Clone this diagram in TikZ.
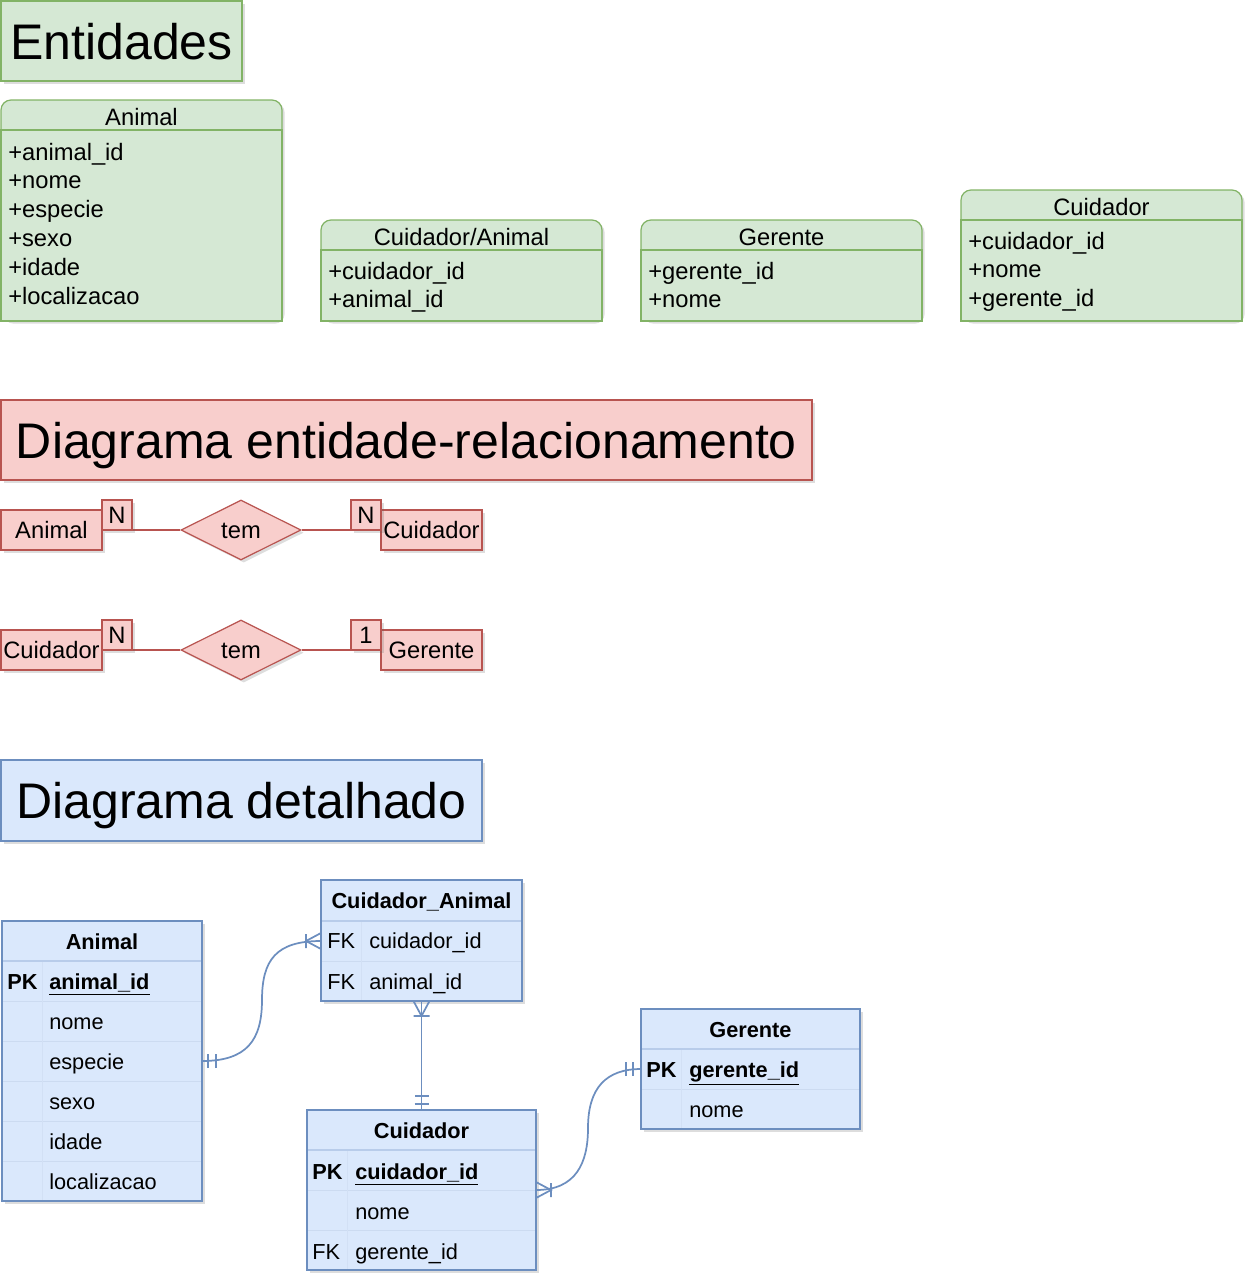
\documentclass[tikz,border=0pt]{standalone}
\usepackage{fontspec}
\setmainfont{Liberation Sans}
\usetikzlibrary{shapes.geometric, shadows, positioning}

\definecolor{greenfill}{HTML}{D5E8D4}
\definecolor{greenline}{HTML}{82B366}
\definecolor{redfill}{HTML}{F8CECC}
\definecolor{redline}{HTML}{B85450}
\definecolor{bluefill}{HTML}{DAE8FC}
\definecolor{blueline}{HTML}{6C8EBF}
\definecolor{rowline}{HTML}{CCDBF1}
\definecolor{headline}{HTML}{B8CCEA}
\definecolor{keyline}{HTML}{D2E0F5}

\newcommand{\pxu}{0.75pt}

\tikzset{
    sz/.style 2 args={anchor=north west, minimum width=#1*\pxu, minimum height=#2*\pxu, inner sep=0pt, outer sep=0pt},
    shade/.style={drop shadow={shadow xshift=2pt, shadow yshift=-2pt, opacity=0.22, fill=black!60}},
    entbox/.style={draw=greenline, fill=greenfill, line width=0.9pt},
    erbox/.style={draw=redline, fill=redfill, line width=0.9pt, shade},
    detbox/.style={draw=blueline, fill=bluefill, line width=0.9pt},
    rowbox/.style={draw=rowline, line width=0.75pt},
    big/.style={font=\fontsize{37.5}{40}\selectfont, text height=27pt, text depth=0pt},
    txt/.style={font=\fontsize{17.8}{21}\selectfont, inner sep=0pt, text height=12.8pt, text depth=0pt},
    dtxt/.style={font=\fontsize{16.3}{19}\selectfont, inner sep=0pt, text height=11.7pt, text depth=0pt, anchor=west},
    dkey/.style={dtxt, font=\fontsize{16.3}{19}\selectfont\bfseries},
    dhead/.style={dkey, anchor=center},
    erline/.style={draw=redline, line width=0.9pt},
    rel/.style={draw=blueline, line width=1.3pt},
    frame/.style={draw=blueline, line width=0.9pt}
}

\begin{document}
\begin{tikzpicture}[x=0.75pt, y=-0.75pt]
    \useasboundingbox (0,0) rectangle (1254,1282);

    % Entidades
    \node[entbox, shade, sz={241}{80}, big] (enttitle) at (1,1) {Entidades};

    \node[entbox, shade, rounded corners=7.5pt, sz={281}{221}] (animal) at (1,100) {};
    \node[entbox, sz={281}{191}] (animalbody) at (1,130) {};
    \node[txt] (animalname) at (141.5,117) {Animal};
    \foreach \a [count=\i from 0] in {+animal\_id, +nome, +especie, +sexo, +idade, +localizacao}
        \node[txt, anchor=west] (animalattr\i) at (8,151.5+28.8*\i) {\a};

    \node[entbox, shade, rounded corners=7.5pt, sz={281}{101}] (cuidanimal) at (321,220) {};
    \node[entbox, sz={281}{71}] (cuidanimalbody) at (321,250) {};
    \node[txt] (cuidanimalname) at (461.5,237) {Cuidador/Animal};
    \foreach \a [count=\i from 0] in {+cuidador\_id, +animal\_id}
        \node[txt, anchor=west] (cuidanimalattr\i) at (328,270.5+28.8*\i) {\a};

    \node[entbox, shade, rounded corners=7.5pt, sz={281}{101}] (gerente) at (641,220) {};
    \node[entbox, sz={281}{71}] (gerentebody) at (641,250) {};
    \node[txt] (gerentename) at (781.5,237) {Gerente};
    \foreach \a [count=\i from 0] in {+gerente\_id, +nome}
        \node[txt, anchor=west] (gerenteattr\i) at (648,270.5+28.8*\i) {\a};

    \node[entbox, shade, rounded corners=7.5pt, sz={281}{131}] (cuidador) at (961,190) {};
    \node[entbox, sz={281}{101}] (cuidadorbody) at (961,220) {};
    \node[txt] (cuidadorname) at (1101.5,207) {Cuidador};
    \foreach \a [count=\i from 0] in {+cuidador\_id, +nome, +gerente\_id}
        \node[txt, anchor=west] (cuidadorattr\i) at (968,240.5+28.8*\i) {\a};

    % Diagrama entidade-relacionamento
    \node[erbox, sz={811}{80}, big] (ertitle) at (1,400) {Diagrama entidade-relacionamento};

    \node[erbox, sz={101}{40}, txt] (eranimal) at (1,510) {Animal};
    \node[erbox, diamond, txt, minimum width=120*\pxu, minimum height=60*\pxu] (ertem1) at (241,530) {tem};
    \node[erbox, sz={101}{40}, txt] (ercuid1) at (381,510) {Cuidador};
    \draw[erline] (eranimal) -- (ertem1) -- (ercuid1);
    \node[erbox, sz={30}{30}, txt] (ern1) at (102,500) {N};
    \node[erbox, sz={30}{30}, txt] (ern2) at (351,500) {N};

    \node[erbox, sz={101}{40}, txt] (ercuid2) at (1,630) {Cuidador};
    \node[erbox, diamond, txt, minimum width=120*\pxu, minimum height=60*\pxu] (ertem2) at (241,650) {tem};
    \node[erbox, sz={101}{40}, txt] (ergerente) at (381,630) {Gerente};
    \draw[erline] (ercuid2) -- (ertem2) -- (ergerente);
    \node[erbox, sz={30}{30}, txt] (ern3) at (102,620) {N};
    \node[erbox, sz={30}{30}, txt] (erone) at (351,620) {1};

    % Diagrama detalhado
    \node[detbox, shade, sz={481}{81}, big] (dettitle) at (1,760) {Diagrama detalhado};

    % Animal table
    \node[detbox, shade, sz={200}{280}] (tanimal) at (2,921) {};
    \foreach \r [count=\i from 0] in {pk, nome, esp, sexo, idade, loc}
        \node[rowbox, sz={200}{40}] (tanimal\r) at (2,961+40*\i) {};
    \draw[keyline, line width=0.75pt] (42,961) -- (42,1201);
    \draw[headline, line width=0.9pt] (tanimalpk.north west) -- (tanimalpk.north east);
    \draw[frame] (tanimal.north west) rectangle (tanimal.south east);
    \node[dhead] (tanimalh) at (102,942) {Animal};
    \node[dkey] (tanimalk) at (7,982) {PK};
    \node[dkey] (tanimalid) at (49,982) {\underline{animal\_id}};
    \foreach \f [count=\i from 1] in {nome, especie, sexo, idade, localizacao}
        \node[dtxt] (tanimalf\i) at (49,982+40*\i) {\f};

    % Cuidador_Animal table
    \node[detbox, shade, sz={201}{121}] (tca) at (321,880) {};
    \node[rowbox, sz={201}{40}] (tcafk1) at (321,921) {};
    \node[rowbox, sz={201}{40}] (tcafk2) at (321,961) {};
    \draw[keyline, line width=0.75pt] (361,921) -- (361,1001);
    \draw[headline, line width=0.9pt] (tcafk1.north west) -- (tcafk1.north east);
    \draw[frame] (tca.north west) rectangle (tca.south east);
    \node[dhead] (tcah) at (421.5,901) {Cuidador\_Animal};
    \node[dtxt] (tcak1) at (327,941) {FK};
    \node[dtxt] (tcaf1) at (369,941) {cuidador\_id};
    \node[dtxt] (tcak2) at (327,982) {FK};
    \node[dtxt] (tcaf2) at (369,982) {animal\_id};

    % Cuidador table
    \node[detbox, shade, sz={229}{160}] (tcuid) at (307,1110) {};
    \foreach \r [count=\i from 0] in {pk, nome, fk}
        \node[rowbox, sz={229}{40}] (tcuid\r) at (307,1150+40*\i) {};
    \draw[keyline, line width=0.75pt] (347,1150) -- (347,1270);
    \draw[headline, line width=0.9pt] (tcuidpk.north west) -- (tcuidpk.north east);
    \draw[frame] (tcuid.north west) rectangle (tcuid.south east);
    \node[dhead] (tcuidh) at (421.5,1131) {Cuidador};
    \node[dkey] (tcuidk) at (312,1172) {PK};
    \node[dkey] (tcuidid) at (355,1172) {\underline{cuidador\_id}};
    \node[dtxt] (tcuidnome) at (355,1212) {nome};
    \node[dtxt] (tcuidfk) at (312,1252) {FK};
    \node[dtxt] (tcuidger) at (355,1252) {gerente\_id};

    % Gerente table
    \node[detbox, shade, sz={219}{120}] (tger) at (641,1009) {};
    \node[rowbox, sz={219}{40}] (tgerpk) at (641,1049) {};
    \node[rowbox, sz={219}{40}] (tgernome) at (641,1089) {};
    \draw[keyline, line width=0.75pt] (681,1049) -- (681,1129);
    \draw[headline, line width=0.9pt] (tgerpk.north west) -- (tgerpk.north east);
    \draw[frame] (tger.north west) rectangle (tger.south east);
    \node[dhead] (tgerh) at (750.5,1030) {Gerente};
    \node[dkey] (tgerk) at (646,1070) {PK};
    \node[dkey] (tgerid) at (689,1070) {\underline{gerente\_id}};
    \node[dtxt] (tgerf) at (689,1110) {nome};

    % Relationships
    \coordinate (bend1) at (262,1000);
    \coordinate (bend2) at (588,1128);
    \draw[rel] (tanimalesp.east) .. controls +(45,0) and +(0,40) .. (bend1) .. controls +(0,-40) and +(-45,0) .. (tcafk1.west);
    \draw[rel] (tanimalesp.east) ++(6,-7) -- ++(0,14) ++(8,0) -- ++(0,-14);
    \draw[rel] (tcafk1.west) ++(-15,-7) -- ++(0,14) ++(0,-7) -- ++(15,-8) ++(-15,8) -- ++(15,8);

    \draw[rel] (tca.south) -- (tcuid.north);
    \draw[rel] (tca.south) ++(-8,0) -- ++(8,15) -- ++(8,-15) ++(-16,15) -- ++(16,0);
    \draw[rel] (tcuid.north) ++(-7,-6) -- ++(14,0) ++(0,-8) -- ++(-14,0);

    \draw[rel] (tcuidpk.south east) .. controls +(40,0) and +(0,35) .. (bend2) .. controls +(0,-40) and +(-35,0) .. (tgerpk.west);
    \draw[rel] (tcuidpk.south east) ++(0,-8) -- ++(15,8) -- ++(-15,8) ++(15,-15) -- ++(0,14);
    \draw[rel] (tgerpk.west) ++(-8,-7) -- ++(0,14) ++(-7,0) -- ++(0,-14);
\end{tikzpicture}
\end{document}
